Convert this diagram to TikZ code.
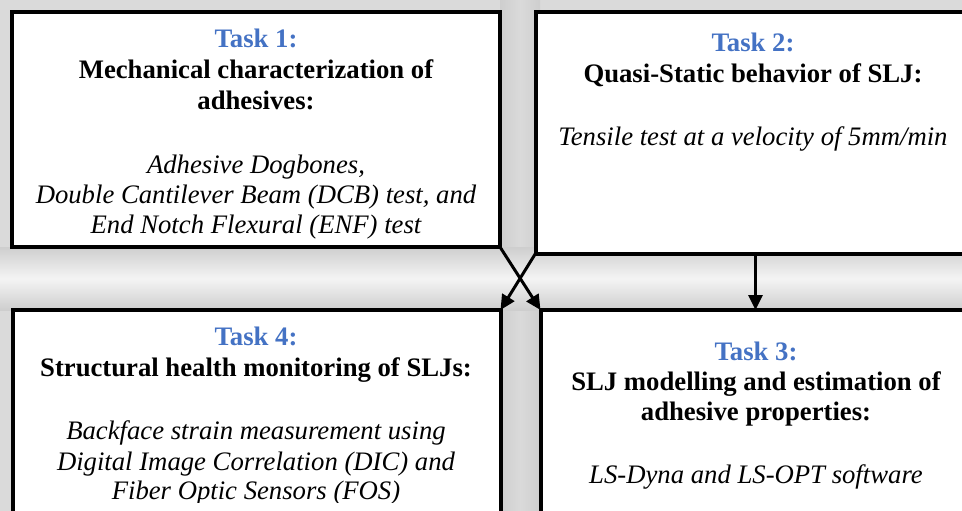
\documentclass[tikz,border=0pt]{standalone}
\usepackage{fontspec}
\setmainfont{Liberation Serif}
\usetikzlibrary{arrows.meta}
\definecolor{taskblue}{RGB}{68,114,196}
\definecolor{bgd}{RGB}{206,206,206}
\definecolor{bgm}{RGB}{218,218,218}
\definecolor{bgl}{RGB}{244,244,244}
\begin{document}
\begin{tikzpicture}[x=1pt,y=-1pt,
  box/.style={draw=black, line width=4pt, fill=white, rectangle, outer sep=0pt, inner sep=0pt, anchor=north west},
  tl/.style={anchor=base, inner sep=0pt, text=taskblue, font=\fontsize{26.7pt}{31pt}\selectfont\bfseries},
  tt/.style={anchor=base, inner sep=0pt, font=\fontsize{26.7pt}{31pt}\selectfont\bfseries},
  tb/.style={anchor=base, inner sep=0pt, font=\fontsize{26.7pt}{31pt}\selectfont\itshape},
  arr/.style={line width=3pt, -{Triangle[length=15pt,width=14pt]}}]
\clip (0,0) rectangle (962,511);
\fill[bgm] (0,0) rectangle (962,511);
\shade[left color=bgd, right color=bgd, middle color=bgm] (500,0) rectangle (540,511);
\shade[top color=bgd, bottom color=bgd, middle color=bgl] (0,247) rectangle (962,310);
% boxes
\node[box, minimum width=488pt, minimum height=235pt] (b1) at (12,12) {};
\node[box, minimum width=440pt, minimum height=241.5pt] (b2) at (535.5,12) {};
\node[box, minimum width=488pt, minimum height=220pt] (b4) at (12.5,310) {};
\node[box, minimum width=440pt, minimum height=220pt] (b3) at (540.5,310) {};
% arrows
\draw[arr] (b1.south east) -- (b3.north west);
\draw[arr] (b2.south west) -- (b4.north east);
\draw[arr] (b2.south) -- (b3.north -| b2.south);
% Task 1
\node[tl] (t1a) at (256,48) {Task 1:};
\node[tt] (t1b) at (256,79) {Mechanical characterization of};
\node[tt] (t1c) at (256,110) {adhesives:};
\node[tb] (t1d) at (256,173) {Adhesive Dogbones,};
\node[tb] (t1e) at (256,203) {Double Cantilever Beam (DCB) test, and};
\node[tb] (t1f) at (256,233) {End Notch Flexural (ENF) test};
% Task 2
\node[tl] (t2a) at (753,52) {Task 2:};
\node[tt] (t2b) at (753,82) {Quasi-Static behavior of SLJ:};
\node[tb] (t2c) at (753,145) {Tensile test at a velocity of 5mm/min};
% Task 4
\begin{scope}
\clip (0,0) rectangle (962,502);
\node[tl] (t4a) at (256,345) {Task 4:};
\node[tt] (t4b) at (256,376) {Structural health monitoring of SLJs:};
\node[tb] (t4c) at (256,439) {Backface strain measurement using};
\node[tb] (t4d) at (256,470) {Digital Image Correlation (DIC) and};
\node[tb] (t4e) at (256,499) {Fiber Optic Sensors (FOS)};
\end{scope}
% Task 3
\node[tl] (t3a) at (756,360) {Task 3:};
\node[tt] (t3b) at (756,390) {SLJ modelling and estimation of};
\node[tt] (t3c) at (756,420) {adhesive properties:};
\node[tb] (t3d) at (756,483) {LS-Dyna and LS-OPT software};
\end{tikzpicture}
\end{document}
